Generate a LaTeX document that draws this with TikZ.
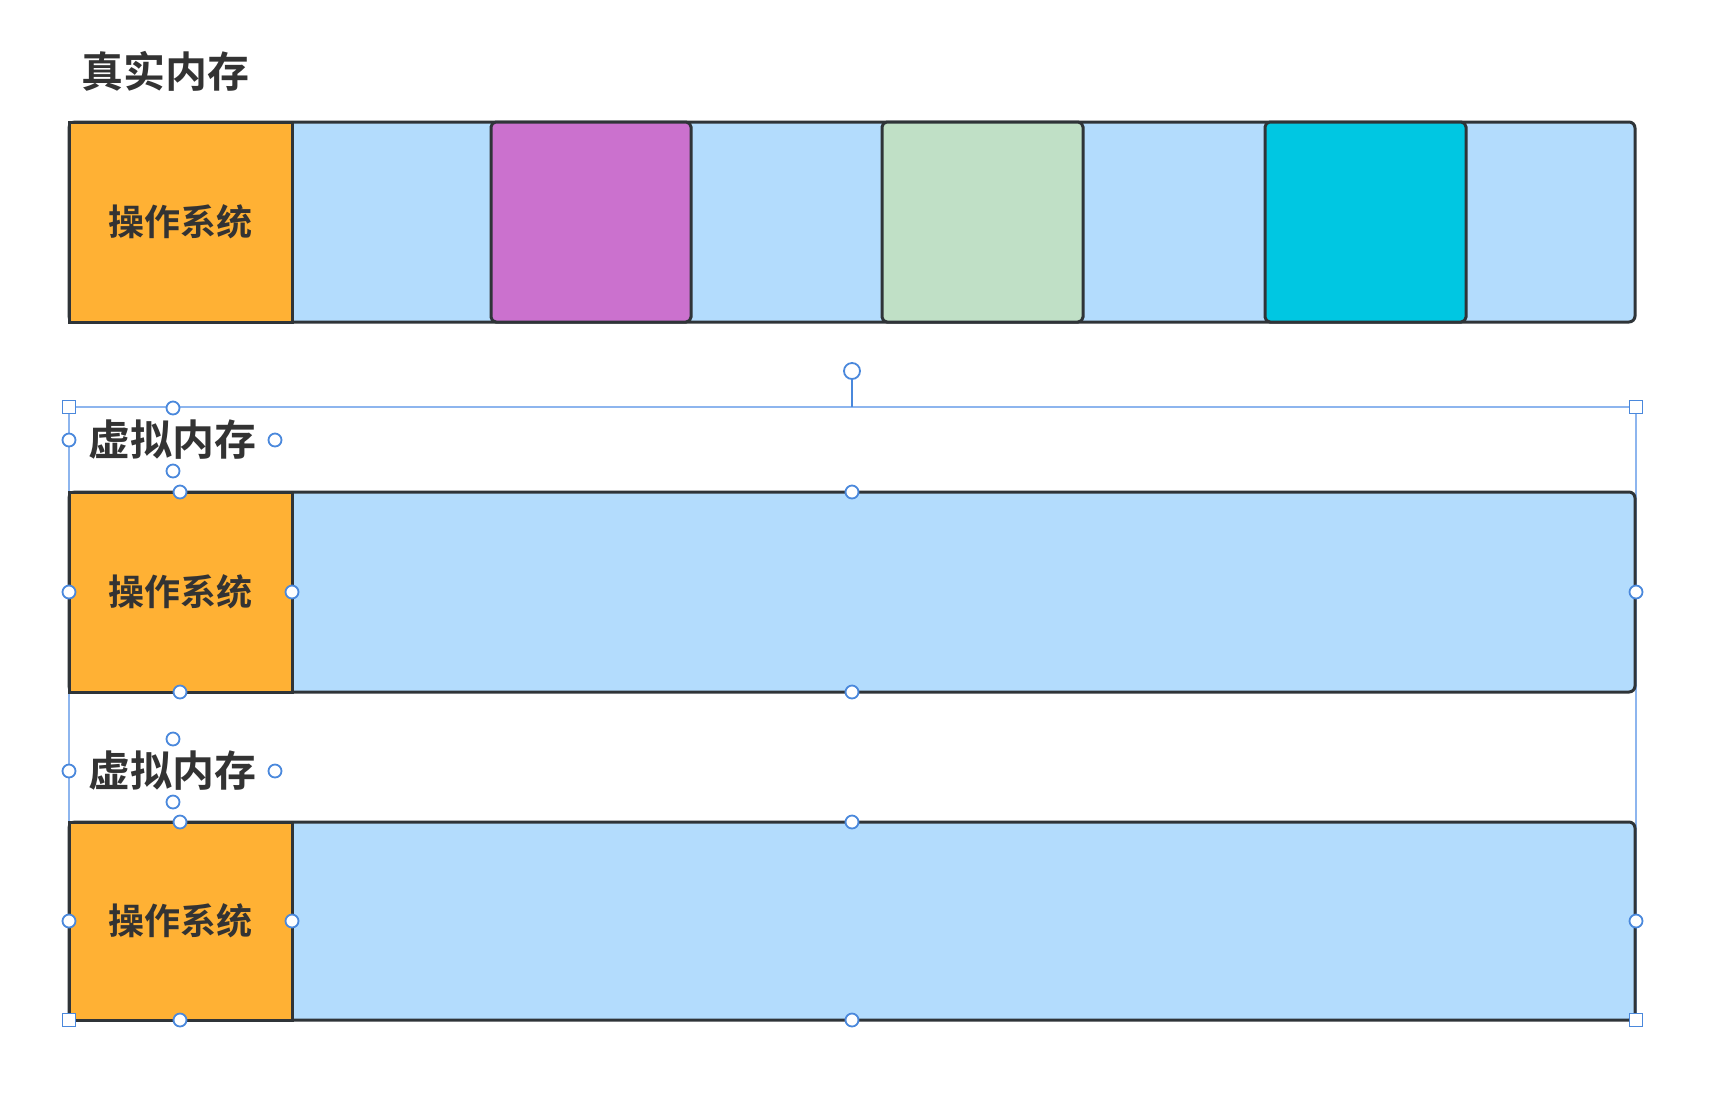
\documentclass[tikz,border=0pt]{standalone}
\usepackage{fontspec}
\newfontfamily\cjk{Noto Sans CJK SC Bold}
\definecolor{orng}{HTML}{FFB134}
\definecolor{lblue}{HTML}{B3DCFD}
\definecolor{purp}{HTML}{CB71CE}
\definecolor{mint}{HTML}{C0E0C6}
\definecolor{cyantwo}{HTML}{00C7E2}
\definecolor{edgec}{HTML}{2F3438}
\definecolor{txt}{HTML}{333333}
\definecolor{selc}{HTML}{8DB5EE}
\definecolor{hnd}{HTML}{4A88DC}
\begin{document}
\begin{tikzpicture}[x=0.5pt,y=-0.5pt,
  blk/.style={draw=edgec, line width=1.5pt, inner sep=0pt, outer sep=0pt, anchor=north west},
  bar/.style={blk, fill=lblue, rounded corners=3pt, minimum width=783pt, minimum height=100pt},
  osbox/.style={blk, fill=orng, minimum width=111.5pt, minimum height=100pt,
     font=\cjk\fontsize{18}{22}\selectfont, text=txt},
  proc/.style={blk, rounded corners=2.5pt, minimum width=100pt, minimum height=100pt},
  title/.style={font=\cjk\fontsize{21}{25}\selectfont, text=txt, inner sep=0pt},
  hcirc/.style={circle, draw=hnd, fill=white, line width=0.9pt, minimum size=6.5pt, inner sep=0pt},
  hsq/.style={rectangle, draw=hnd, fill=white, line width=0.9pt, minimum size=6.5pt, inner sep=0pt},
  selline/.style={draw=selc, line width=0.6pt}]
\useasboundingbox (0,0) rectangle (1724,1094);
\fill[white] (0,0) rectangle (1724,1094);

% selection frame
\coordinate (selTL) at (69,407);
\coordinate (selBR) at (1636,1020);
\path[selline] (selTL) rectangle (selBR);

% real memory
\node[title] (t1) at (165,71) {真实内存};
\node[bar] (real) at (69,122) {};
\node[osbox] (os1) at (69,122) {操作系统};
\node[proc, fill=purp, minimum width=100pt] (p1) at (491,122) {};
\node[proc, fill=mint, minimum width=100.5pt] (p2) at (882,122) {};
\node[proc, fill=cyantwo, minimum width=100.5pt] (p3) at (1265,122) {};

% virtual memory 1
\node[title] (t2) at (172,440) {虚拟内存};
\node[bar] (virt1) at (69,492) {};
\node[osbox] (os2) at (69,492) {操作系统};

% virtual memory 2
\node[title] (t3) at (172,771) {虚拟内存};
\node[bar, minimum height=99pt] (virt2) at (69,822) {};
\node[osbox, minimum height=99pt] (os3) at (69,822) {操作系统};

% rotation handle
\node[hcirc, minimum size=8pt] (rot) at (852,371) {};
\draw[draw=hnd, line width=0.9pt] (rot.south) -- (852,407);

% corner handles
\node[hsq] (c1) at (69,407) {};
\node[hsq] (c2) at (1636,407) {};
\node[hsq] (c3) at (69,1020) {};
\node[hsq] (c4) at (1636,1020) {};

% text handles
\foreach \n/\y in {a/440,b/771}{
  \node[hcirc] (tl\n) at (69,\y) {};
  \node[hcirc] (tr\n) at (275,\y) {};
  \node[hcirc] (tt\n) at (173,\y-32) {};
  \node[hcirc] (tb\n) at (173,\y+31) {};
}
% bar handles
\foreach \n/\ya/\yb in {m/492/692,n/822/1020}{
  \node[hcirc] (bt\n) at (180,\ya) {};
  \node[hcirc] (bc\n) at (852,\ya) {};
  \node[hcirc] (bl\n) at (69,{(\ya+\yb)/2}) {};
  \node[hcirc] (bo\n) at (292,{(\ya+\yb)/2}) {};
  \node[hcirc] (br\n) at (1636,{(\ya+\yb)/2}) {};
  \node[hcirc] (bb\n) at (180,\yb) {};
  \node[hcirc] (bd\n) at (852,\yb) {};
}
\node[hsq] at (69,1020) {};
\node[hsq] at (1636,1020) {};
\end{tikzpicture}
\end{document}
